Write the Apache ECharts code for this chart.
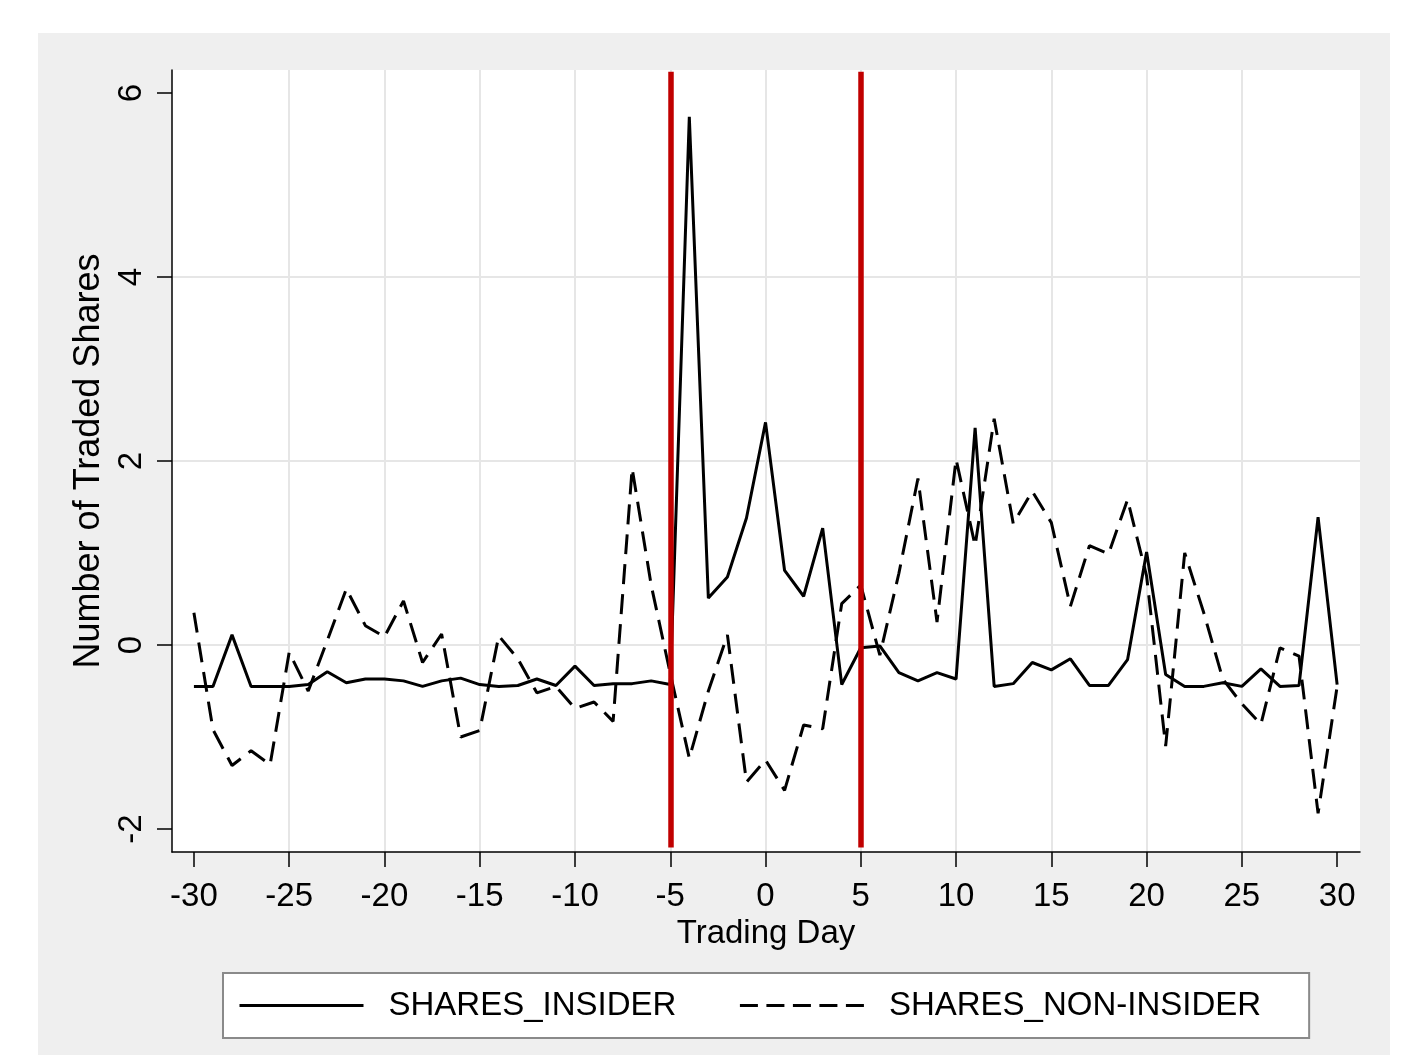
<!DOCTYPE html>
<html><head><meta charset="utf-8">
<script src="https://cdn.jsdelivr.net/npm/echarts@6/dist/echarts.min.js"></script>
<style>
html,body{margin:0;padding:0;background:#fff;}
#bg{position:absolute;left:38px;top:33px;width:1352px;height:1022px;background:#efefef;}
#chart{position:absolute;left:0;top:0;width:1405px;height:1055px;}
</style></head><body>
<div id="bg"></div><div id="chart"></div>
<script>
const days = [-30,-29,-28,-27,-26,-25,-24,-23,-22,-21,-20,-19,-18,-17,-16,-15,-14,-13,-12,-11,
  -10,-9,-8,-7,-6,-5,-4,-3,-2,-1,0,1,2,3,4,5,6,7,8,9,10,11,12,13,14,15,16,17,18,19,20,
  21,22,23,24,25,26,27,28,29,30];
const sharesInsider = [-0.45,-0.45,0.11,-0.45,-0.45,-0.45,-0.43,-0.29,-0.41,-0.37,
  -0.37,-0.39,-0.45,-0.39,-0.36,-0.43,-0.45,-0.44,-0.37,-0.44,
  -0.23,-0.44,-0.42,-0.42,-0.39,-0.43,5.74,0.51,0.74,1.38,
  2.42,0.81,0.53,1.27,-0.43,-0.03,-0.01,-0.30,-0.39,-0.30,
  -0.37,2.36,-0.45,-0.42,-0.19,-0.27,-0.15,-0.44,-0.44,-0.16,
  1.01,-0.32,-0.45,-0.45,-0.41,-0.45,-0.26,-0.45,-0.44,1.39,-0.43];
const sharesNonInsider = [0.35,-0.92,-1.31,-1.15,-1.30,-0.08,-0.50,0.05,0.61,0.21,
  0.09,0.48,-0.19,0.12,-1.00,-0.93,0.10,-0.15,-0.52,-0.45,
  -0.69,-0.62,-0.83,1.92,0.65,-0.31,-1.23,-0.50,0.11,-1.49,
  -1.25,-1.58,-0.87,-0.91,0.45,0.65,-0.11,0.78,1.81,0.25,
  2.02,1.08,2.46,1.32,1.67,1.33,0.42,1.08,0.99,1.58,
  0.75,-1.10,1.00,0.35,-0.37,-0.64,-0.86,-0.03,-0.12,-1.83,-0.45];
const xTicks = [-30,-25,-20,-15,-10,-5,0,5,10,15,20,25,30];
const yTicks = [-2,0,2,4,6];
const eventWindow = [-5, 5];
const redTop = 6.23, redBottom = -2.2;

const FONT = "'Liberation Sans', Arial, sans-serif";
const chart = echarts.init(document.getElementById('chart'), null, {renderer: 'canvas'});
const pairs = vals => days.map((d, i) => [d, vals[i]]);

chart.setOption({
  animation: false,
  backgroundColor: 'transparent',
  textStyle: {fontFamily: FONT},
  grid: {left: 172, right: 45, top: 70, bottom: 203, show: true, backgroundColor: '#fff', borderWidth: 0},
  xAxis: {
    type: 'value', min: -31.15, max: 31.2, splitNumber: 12,
    name: 'Trading Day', nameLocation: 'middle', nameGap: 64,
    nameTextStyle: {fontSize: 33, color: '#000', fontFamily: FONT},
    axisLine: {onZero: false, lineStyle: {color: '#000', width: 1.5}},
    axisTick: {show: true, length: 15, customValues: xTicks, lineStyle: {color: '#000', width: 1.5}},
    axisLabel: {customValues: xTicks, fontSize: 33, color: '#000', margin: 28, fontFamily: FONT},
    splitLine: {show: true, showMinLine: false, showMaxLine: false, lineStyle: {color: '#e6e6e6', width: 2}}
  },
  yAxis: {
    type: 'value', min: -2.25, max: 6.25, splitNumber: 4,
    name: 'Number of Traded Shares', nameLocation: 'middle', nameGap: 55,
    nameTextStyle: {fontSize: 36, color: '#000', fontFamily: FONT},
    axisLine: {show: true, onZero: false, lineStyle: {color: '#000', width: 1.5}},
    axisTick: {show: true, length: 15, customValues: yTicks, lineStyle: {color: '#000', width: 1.5}},
    axisLabel: {customValues: yTicks, rotate: 90, fontSize: 33, color: '#000', margin: 24, fontFamily: FONT},
    splitLine: {show: true, showMinLine: false, showMaxLine: false, lineStyle: {color: '#e6e6e6', width: 2}}
  },
  legend: {
    left: 223, top: 973,
    itemWidth: 124, itemHeight: 14, itemGap: 62,
    padding: [16, 48, 16, 15],
    backgroundColor: '#fff', borderColor: '#8a8a8a', borderWidth: 2,
    itemStyle: {opacity: 0},
    lineStyle: {width: 3},
    textStyle: {fontSize: 33, color: '#000', fontFamily: FONT, padding: [0, 0, 0, 20]},
    data: [
      {name: 'SHARES_INSIDER'},
      {name: 'SHARES_NON-INSIDER', lineStyle: {type: [18, 8.5], width: 3}}
    ]
  },
  series: [
    {
      name: 'SHARES_INSIDER', type: 'line', data: pairs(sharesInsider),
      symbol: 'none', lineStyle: {color: '#000', width: 3}, itemStyle: {color: '#000'}, z: 3
    },
    {
      name: 'SHARES_NON-INSIDER', type: 'line', data: pairs(sharesNonInsider),
      symbol: 'none', lineStyle: {color: '#000', width: 3, type: [20, 10]}, itemStyle: {color: '#000'}, z: 3,
      markLine: {
        silent: true, symbol: ['none', 'none'], label: {show: false}, z: 10,
        lineStyle: {color: '#c00000', width: 5.5, type: 'solid'},
        data: eventWindow.map(d => [{coord: [d, redTop]}, {coord: [d, redBottom]}])
      }
    }
  ]
});
</script>
</body></html>
